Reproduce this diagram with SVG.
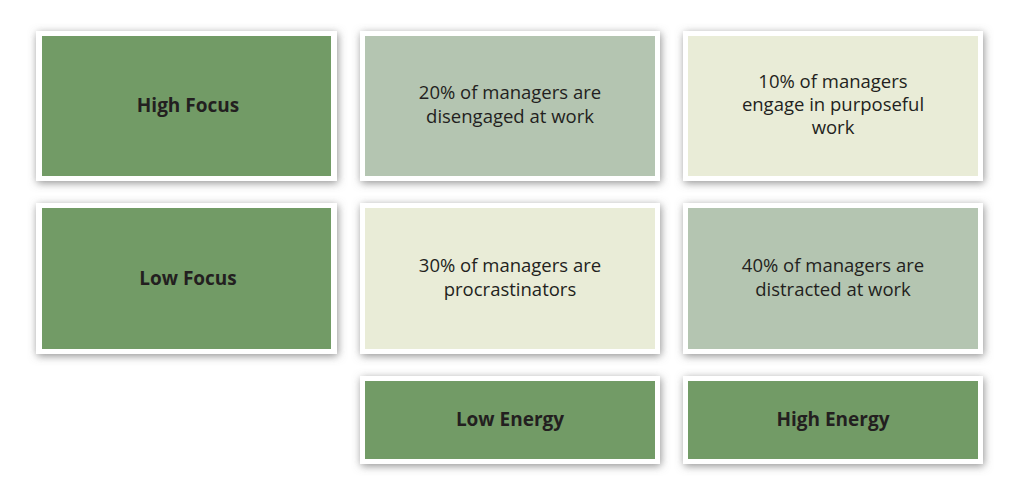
<svg xmlns="http://www.w3.org/2000/svg" width="1009" height="482" viewBox="0 0 1009 482">
<defs>
<filter id="sh" x="-10%" y="-15%" width="120%" height="135%">
<feDropShadow dx="1" dy="2" stdDeviation="4" flood-color="#6b6b6b" flood-opacity="0.75"/>
</filter>
</defs>
<style>
.frame{fill:#ffffff;filter:url(#sh)}
.dark{fill:#729b66}
.sage{fill:#b4c5b1}
.cream{fill:#e9ecd7}
.lbl{font-family:"Open Sans","Liberation Sans",sans-serif;font-weight:bold;font-size:19px;fill:#231f20;text-anchor:middle}
.txt{font-family:"Open Sans","Liberation Sans",sans-serif;font-size:18.5px;fill:#231f20;text-anchor:middle}
</style>
<rect width="1009" height="482" fill="#ffffff"/>
<g id="high-focus">
<rect class="frame" x="36" y="31" width="301" height="150"/>
<rect class="dark" x="42" y="36" width="289" height="140"/>
<text class="lbl" x="188" y="112">High Focus</text>
</g>
<g id="disengaged">
<rect class="frame" x="360" y="31" width="300" height="150"/>
<rect class="sage" x="365" y="36" width="290" height="140"/>
<text class="txt" x="510" y="99">20% of managers are</text>
<text class="txt" x="510" y="123">disengaged at work</text>
</g>
<g id="purposeful">
<rect class="frame" x="683" y="31" width="300" height="150"/>
<rect class="cream" x="688" y="36" width="290" height="140"/>
<text class="txt" x="833" y="88">10% of managers</text>
<text class="txt" x="833" y="111">engage in purposeful</text>
<text class="txt" x="833" y="134">work</text>
</g>
<g id="low-focus">
<rect class="frame" x="36" y="203" width="301" height="151"/>
<rect class="dark" x="42" y="208" width="289" height="141"/>
<text class="lbl" x="188" y="285">Low Focus</text>
</g>
<g id="procrastinators">
<rect class="frame" x="360" y="203" width="300" height="151"/>
<rect class="cream" x="365" y="208" width="290" height="141"/>
<text class="txt" x="510" y="272">30% of managers are</text>
<text class="txt" x="510" y="296">procrastinators</text>
</g>
<g id="distracted">
<rect class="frame" x="683" y="203" width="300" height="151"/>
<rect class="sage" x="688" y="208" width="290" height="141"/>
<text class="txt" x="833" y="272">40% of managers are</text>
<text class="txt" x="833" y="296">distracted at work</text>
</g>
<g id="low-energy">
<rect class="frame" x="360" y="376" width="300" height="88"/>
<rect class="dark" x="365" y="381" width="290" height="78"/>
<text class="lbl" x="510" y="426">Low Energy</text>
</g>
<g id="high-energy">
<rect class="frame" x="683" y="376" width="300" height="88"/>
<rect class="dark" x="688" y="381" width="290" height="78"/>
<text class="lbl" x="833" y="426">High Energy</text>
</g>
<g id="connectors"></g>
</svg>
